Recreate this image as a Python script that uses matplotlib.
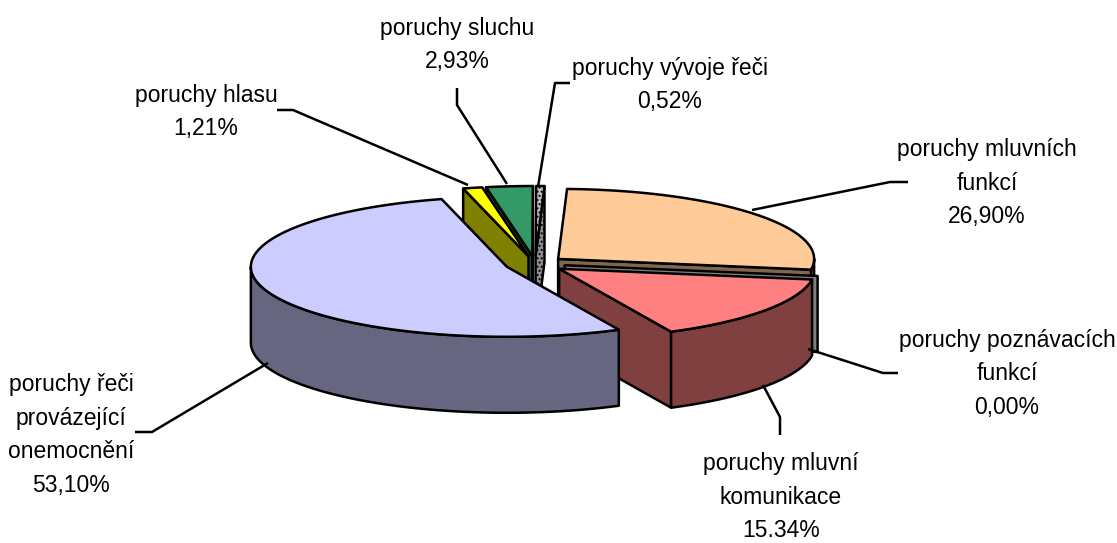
import numpy as np
import matplotlib
matplotlib.use('Agg')
import matplotlib.pyplot as plt
from matplotlib.patches import Polygon

# data
labels = ['poruchy mluvních\nfunkcí', 'poruchy poznávacích\nfunkcí', 'poruchy mluvní\nkomunikace',
          'poruchy řeči\nprovázející\nonemocnění', 'poruchy hlasu', 'poruchy sluchu',
          'poruchy vývoje řeči']
values = [26.90, 0.00, 15.34, 53.10, 1.21, 2.93, 0.52]
pct_labels = ['26,90%', '0,00%', '15.34%', '53,10%', '1,21%', '2,93%', '0,52%']

top_colors = ['#FFCC99', '#C0C0C0', '#FF8080', '#CCCCFF', '#FFFF00', '#339966', '#C0C0C0']
side_colors = ['#80664D', '#808080', '#804040', '#666680', '#808000', '#1A4D33', '#909090']

# label placement (pixels) and leader lines
label_xy = [(987, 183), (1007, 374), (781, 497), (71, 435), (206, 112), (457, 45), (670, 85)]
leaders = [
    [(908, 182), (890, 182), (752, 210)],
    [(898, 373), (883, 373), (808, 349)],
    [(780, 435), (780, 417), (763, 385)],
    [(135, 432), (152, 432), (268, 363)],
    [(277, 110), (293, 110), (468, 185)],
    [(457, 88), (457, 105), (507, 184)],
    [(570, 83), (555, 83), (538, 187)],
]

# pie geometry (pixels)
CX, CY = 535, 264
RX, RY = 256, 70
H = 76
EX, EY = 30, 8
START = 2.0

plt.rcParams['font.family'] = ['Liberation Sans', 'DejaVu Sans']

fig = plt.figure(figsize=(11.17, 5.43), dpi=100)
ax = fig.add_axes([0, 0, 1, 1])
ax.set_xlim(0, 1117)
ax.set_ylim(543, 0)
ax.axis('off')


def rim(a, ox, oy):
    r = np.radians(a)
    return ox + RX * np.sin(r), oy - RY * np.cos(r)


def arc(a0, a1, ox, oy, dy=0):
    n = max(2, int(abs(a1 - a0) * 2))
    ang = np.linspace(a0, a1, n)
    xs, ys = rim(ang, ox, oy)
    return list(zip(xs, ys + dy))


def poly(pts, fc, z, hatch=None):
    ax.add_patch(Polygon(pts, closed=True, facecolor=fc, edgecolor='black',
                         linewidth=1.8, joinstyle='round', zorder=z, hatch=hatch))


slices = []
cum = START
for i, v in enumerate(values):
    a0 = cum
    a1 = cum + v * 3.6
    cum = a1
    mid = np.radians((a0 + a1) / 2)
    ox = CX + EX * np.sin(mid)
    oy = CY - EY * np.cos(mid)
    top = arc(a0, a1, ox, oy)
    key = max(max(p[1] for p in top), oy) - ox * 0.001
    slices.append((key, i, a0, a1, ox, oy))

slices.sort()
z = 1
for key, i, a0, a1, ox, oy in slices:
    hatch = '....' if i == 6 else None
    # radial faces
    if np.sin(np.radians(a0)) < 0 and values[i] > 0:
        x, y = rim(a0, ox, oy)
        poly([(ox, oy), (x, y), (x, y + H), (ox, oy + H)], side_colors[i], z, hatch)
        z += 1
    if np.sin(np.radians(a1)) > 0:
        x, y = rim(a1, ox, oy)
        poly([(ox, oy), (x, y), (x, y + H), (ox, oy + H)], side_colors[i], z, hatch)
        z += 1
    # outer wall, front part only
    w0, w1 = max(a0, 90), min(a1, 270)
    if w1 > w0:
        pts = arc(w0, w1, ox, oy) + arc(w0, w1, ox, oy, H)[::-1]
        poly(pts, side_colors[i], z)
        z += 1
    if values[i] > 0:
        poly([(ox, oy)] + arc(a0, a1, ox, oy), top_colors[i], z, hatch)
        z += 1

for i in range(len(values)):
    xs, ys = zip(*leaders[i])
    ax.plot(xs, ys, color='black', lw=1.8, zorder=50, solid_capstyle='butt')
    ax.text(label_xy[i][0], label_xy[i][1], labels[i] + '\n' + pct_labels[i],
            ha='center', va='center', fontsize=16.5, linespacing=1.6, zorder=60)

fig.savefig('out.png', dpi=100)
